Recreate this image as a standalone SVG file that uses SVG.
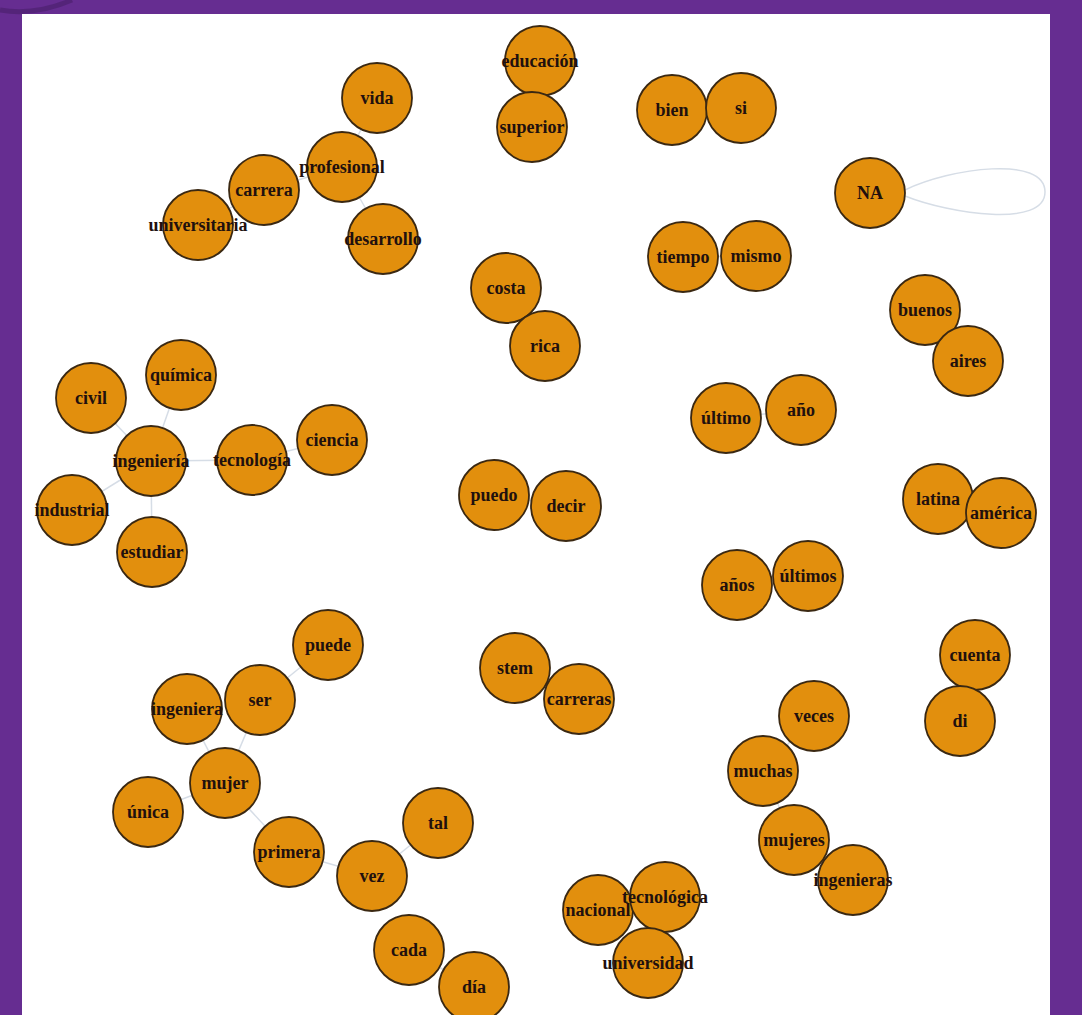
<svg xmlns="http://www.w3.org/2000/svg" width="1082" height="1015" viewBox="0 0 1082 1015">
<style>
.n circle{fill:#e28f0d;stroke:#3a2812;stroke-width:1.8}
.n text{font-family:"Liberation Serif","DejaVu Serif",serif;font-weight:bold;font-size:18px;fill:#21100e;text-anchor:middle;dominant-baseline:central}
#edges line,#edges path{stroke:#d6dde6;stroke-width:1.5;fill:none}
</style>
<rect width="1082" height="1015" fill="#662d91"/>
<path d="M0,10 Q35,16 72,0" stroke="#3f1a5e" stroke-width="5" fill="none" opacity="0.45"/>
<rect x="22" y="14" width="1028" height="1001" fill="#ffffff"/>
<g id="edges">
<line x1="540" y1="61" x2="532" y2="127"/>
<line x1="377" y1="98" x2="342" y2="167"/>
<line x1="342" y1="167" x2="264" y2="190"/>
<line x1="264" y1="190" x2="198" y2="225"/>
<line x1="342" y1="167" x2="383" y2="239"/>
<line x1="672" y1="110" x2="741" y2="108"/>
<path d="M905,190 C950,168 1045,155 1045,192 C1045,228 950,214 905,196"/>
<line x1="683" y1="257" x2="756" y2="256"/>
<line x1="506" y1="288" x2="545" y2="346"/>
<line x1="925" y1="310" x2="968" y2="361"/>
<line x1="726" y1="418" x2="801" y2="410"/>
<line x1="938" y1="499" x2="1001" y2="513"/>
<line x1="494" y1="495" x2="566" y2="506"/>
<line x1="737" y1="585" x2="808" y2="576"/>
<line x1="151" y1="461" x2="181" y2="375"/>
<line x1="151" y1="461" x2="91" y2="398"/>
<line x1="151" y1="461" x2="252" y2="460"/>
<line x1="252" y1="460" x2="332" y2="440"/>
<line x1="151" y1="461" x2="72" y2="510"/>
<line x1="151" y1="461" x2="152" y2="552"/>
<line x1="328" y1="645" x2="260" y2="700"/>
<line x1="260" y1="700" x2="225" y2="783"/>
<line x1="187" y1="709" x2="225" y2="783"/>
<line x1="225" y1="783" x2="148" y2="812"/>
<line x1="225" y1="783" x2="289" y2="852"/>
<line x1="289" y1="852" x2="372" y2="876"/>
<line x1="372" y1="876" x2="438" y2="823"/>
<line x1="409" y1="950" x2="474" y2="987"/>
<line x1="515" y1="668" x2="579" y2="699"/>
<line x1="975" y1="655" x2="960" y2="721"/>
<line x1="814" y1="716" x2="763" y2="771"/>
<line x1="763" y1="771" x2="794" y2="840"/>
<line x1="794" y1="840" x2="853" y2="880"/>
<line x1="598" y1="910" x2="665" y2="897"/>
<line x1="665" y1="897" x2="648" y2="963"/>
</g>
<g id="n-educacion" class="n"><circle cx="540" cy="61" r="35"/><text x="540" y="61">educación</text></g>
<g id="n-superior" class="n"><circle cx="532" cy="127" r="35"/><text x="532" y="127">superior</text></g>
<g id="n-vida" class="n"><circle cx="377" cy="98" r="35"/><text x="377" y="98">vida</text></g>
<g id="n-profesional" class="n"><circle cx="342" cy="167" r="35"/><text x="342" y="167">profesional</text></g>
<g id="n-carrera" class="n"><circle cx="264" cy="190" r="35"/><text x="264" y="190">carrera</text></g>
<g id="n-universitaria" class="n"><circle cx="198" cy="225" r="35"/><text x="198" y="225">universitaria</text></g>
<g id="n-desarrollo" class="n"><circle cx="383" cy="239" r="35"/><text x="383" y="239">desarrollo</text></g>
<g id="n-bien" class="n"><circle cx="672" cy="110" r="35"/><text x="672" y="110">bien</text></g>
<g id="n-si" class="n"><circle cx="741" cy="108" r="35"/><text x="741" y="108">si</text></g>
<g id="n-NA" class="n"><circle cx="870" cy="193" r="35"/><text x="870" y="193">NA</text></g>
<g id="n-tiempo" class="n"><circle cx="683" cy="257" r="35"/><text x="683" y="257">tiempo</text></g>
<g id="n-mismo" class="n"><circle cx="756" cy="256" r="35"/><text x="756" y="256">mismo</text></g>
<g id="n-costa" class="n"><circle cx="506" cy="288" r="35"/><text x="506" y="288">costa</text></g>
<g id="n-rica" class="n"><circle cx="545" cy="346" r="35"/><text x="545" y="346">rica</text></g>
<g id="n-buenos" class="n"><circle cx="925" cy="310" r="35"/><text x="925" y="310">buenos</text></g>
<g id="n-aires" class="n"><circle cx="968" cy="361" r="35"/><text x="968" y="361">aires</text></g>
<g id="n-ultimo" class="n"><circle cx="726" cy="418" r="35"/><text x="726" y="418">último</text></g>
<g id="n-ano" class="n"><circle cx="801" cy="410" r="35"/><text x="801" y="410">año</text></g>
<g id="n-latina" class="n"><circle cx="938" cy="499" r="35"/><text x="938" y="499">latina</text></g>
<g id="n-america" class="n"><circle cx="1001" cy="513" r="35"/><text x="1001" y="513">américa</text></g>
<g id="n-puedo" class="n"><circle cx="494" cy="495" r="35"/><text x="494" y="495">puedo</text></g>
<g id="n-decir" class="n"><circle cx="566" cy="506" r="35"/><text x="566" y="506">decir</text></g>
<g id="n-anos" class="n"><circle cx="737" cy="585" r="35"/><text x="737" y="585">años</text></g>
<g id="n-ultimos" class="n"><circle cx="808" cy="576" r="35"/><text x="808" y="576">últimos</text></g>
<g id="n-quimica" class="n"><circle cx="181" cy="375" r="35"/><text x="181" y="375">química</text></g>
<g id="n-civil" class="n"><circle cx="91" cy="398" r="35"/><text x="91" y="398">civil</text></g>
<g id="n-ingenieria" class="n"><circle cx="151" cy="461" r="35"/><text x="151" y="461">ingeniería</text></g>
<g id="n-tecnologia" class="n"><circle cx="252" cy="460" r="35"/><text x="252" y="460">tecnología</text></g>
<g id="n-ciencia" class="n"><circle cx="332" cy="440" r="35"/><text x="332" y="440">ciencia</text></g>
<g id="n-industrial" class="n"><circle cx="72" cy="510" r="35"/><text x="72" y="510">industrial</text></g>
<g id="n-estudiar" class="n"><circle cx="152" cy="552" r="35"/><text x="152" y="552">estudiar</text></g>
<g id="n-puede" class="n"><circle cx="328" cy="645" r="35"/><text x="328" y="645">puede</text></g>
<g id="n-ser" class="n"><circle cx="260" cy="700" r="35"/><text x="260" y="700">ser</text></g>
<g id="n-ingeniera" class="n"><circle cx="187" cy="709" r="35"/><text x="187" y="709">ingeniera</text></g>
<g id="n-mujer" class="n"><circle cx="225" cy="783" r="35"/><text x="225" y="783">mujer</text></g>
<g id="n-unica" class="n"><circle cx="148" cy="812" r="35"/><text x="148" y="812">única</text></g>
<g id="n-primera" class="n"><circle cx="289" cy="852" r="35"/><text x="289" y="852">primera</text></g>
<g id="n-vez" class="n"><circle cx="372" cy="876" r="35"/><text x="372" y="876">vez</text></g>
<g id="n-tal" class="n"><circle cx="438" cy="823" r="35"/><text x="438" y="823">tal</text></g>
<g id="n-cada" class="n"><circle cx="409" cy="950" r="35"/><text x="409" y="950">cada</text></g>
<g id="n-dia" class="n"><circle cx="474" cy="987" r="35"/><text x="474" y="987">día</text></g>
<g id="n-stem" class="n"><circle cx="515" cy="668" r="35"/><text x="515" y="668">stem</text></g>
<g id="n-carreras" class="n"><circle cx="579" cy="699" r="35"/><text x="579" y="699">carreras</text></g>
<g id="n-cuenta" class="n"><circle cx="975" cy="655" r="35"/><text x="975" y="655">cuenta</text></g>
<g id="n-di" class="n"><circle cx="960" cy="721" r="35"/><text x="960" y="721">di</text></g>
<g id="n-veces" class="n"><circle cx="814" cy="716" r="35"/><text x="814" y="716">veces</text></g>
<g id="n-muchas" class="n"><circle cx="763" cy="771" r="35"/><text x="763" y="771">muchas</text></g>
<g id="n-mujeres" class="n"><circle cx="794" cy="840" r="35"/><text x="794" y="840">mujeres</text></g>
<g id="n-ingenieras" class="n"><circle cx="853" cy="880" r="35"/><text x="853" y="880">ingenieras</text></g>
<g id="n-nacional" class="n"><circle cx="598" cy="910" r="35"/><text x="598" y="910">nacional</text></g>
<g id="n-tecnologica" class="n"><circle cx="665" cy="897" r="35"/><text x="665" y="897">tecnológica</text></g>
<g id="n-universidad" class="n"><circle cx="648" cy="963" r="35"/><text x="648" y="963">universidad</text></g>
</svg>
